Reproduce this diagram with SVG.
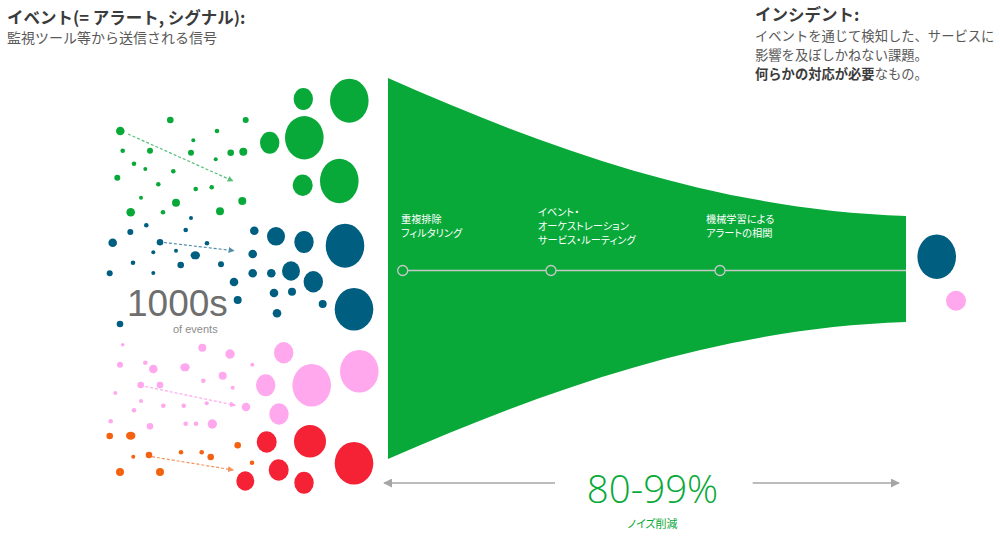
<svg xmlns="http://www.w3.org/2000/svg" width="1000" height="536" viewBox="0 0 1000 536">
<style>
.jp{font-family:"Noto Sans CJK JP","Noto Sans",sans-serif;}
.h{font-size:16.5px;font-weight:bold;fill:#3b3b3b;}
.t{font-size:14px;fill:#595959;}
.t2{font-size:13.3px;fill:#595959;}
.st{font-size:10.2px;fill:#ffffff;font-feature-settings:"palt";}
.g{fill:#08A939;}
.bl{fill:#005E80;}
.pk{fill:#FFA8EE;}
.rd{fill:#F52236;}
.or{fill:#F26210;}
.num{font-family:"Open Sans","Liberation Sans",sans-serif;font-weight:300;}
</style>
<defs>
<marker id="ag" viewBox="0 0 10 10" refX="9" refY="5" markerWidth="5" markerHeight="5" orient="auto"><path d="M0,0 L10,5 L0,10 z" fill="#55C176"/></marker>
<marker id="ab" viewBox="0 0 10 10" refX="9" refY="5" markerWidth="5" markerHeight="5" orient="auto"><path d="M0,0 L10,5 L0,10 z" fill="#4F8EA8"/></marker>
<marker id="ap" viewBox="0 0 10 10" refX="9" refY="5" markerWidth="5" markerHeight="5" orient="auto"><path d="M0,0 L10,5 L0,10 z" fill="#FFA8EE"/></marker>
<marker id="ao" viewBox="0 0 10 10" refX="9" refY="5" markerWidth="5" markerHeight="5" orient="auto"><path d="M0,0 L10,5 L0,10 z" fill="#F5915A"/></marker>
<marker id="agr" viewBox="0 0 10 10" refX="9" refY="5" markerWidth="6" markerHeight="6" orient="auto"><path d="M0,0 L10,5 L0,10 z" fill="#A6A6A6"/></marker>
</defs>

<g id="event-title">
<text class="jp h" x="7" y="24">イベント(= アラート, シグナル):</text>
<text class="jp t" x="7" y="43">監視ツール等から送信される信号</text>
</g>

<g id="incident-title">
<text class="jp h" x="755" y="21">インシデント:</text>
<text class="jp t2" x="755" y="41">イベントを通じて検知した、サービスに</text>
<text class="jp t2" x="755" y="60">影響を及ぼしかねない課題。</text>
<text class="jp t2" x="755" y="79"><tspan font-weight="bold" fill="#3b3b3b">何らかの対応が必要</tspan>なもの。</text>
</g>

<g id="green-events">
<circle class="g" cx="120.3" cy="131" r="4.3"/>
<circle class="g" cx="170.3" cy="120" r="3.3"/>
<circle class="g" cx="245.7" cy="120" r="3"/>
<circle class="g" cx="217" cy="131" r="2.3"/>
<circle class="g" cx="193.3" cy="140.3" r="2"/>
<circle class="g" cx="122.7" cy="150.7" r="2.3"/>
<circle class="g" cx="150" cy="150.7" r="3"/>
<circle class="g" cx="191" cy="152.7" r="3"/>
<circle class="g" cx="230.7" cy="152.7" r="3.3"/>
<circle class="g" cx="243.3" cy="151.7" r="4"/>
<circle class="g" cx="215.7" cy="159.3" r="2"/>
<circle class="g" cx="134" cy="163.7" r="2.3"/>
<circle class="g" cx="145.3" cy="169" r="2"/>
<circle class="g" cx="173.3" cy="171.3" r="2.3"/>
<circle class="g" cx="117.3" cy="177.7" r="3"/>
<circle class="g" cx="158.3" cy="184.3" r="2.3"/>
<circle class="g" cx="195.7" cy="189" r="2.3"/>
<circle class="g" cx="211.7" cy="187.3" r="2.3"/>
<circle class="g" cx="141" cy="197.7" r="2"/>
<circle class="g" cx="176" cy="202.7" r="4"/>
<circle class="g" cx="242.3" cy="201" r="4"/>
<circle class="g" cx="130.7" cy="212.3" r="4.3"/>
<circle class="g" cx="163" cy="212.3" r="2.3"/>
<circle class="g" cx="220" cy="211.3" r="4"/>
<ellipse class="g" cx="303.3" cy="99" rx="9.7" ry="11"/>
<ellipse class="g" cx="349.3" cy="100.7" rx="19.3" ry="22"/>
<ellipse class="g" cx="269.7" cy="142.7" rx="9.7" ry="11"/>
<ellipse class="g" cx="304.3" cy="137.7" rx="19.3" ry="21.7"/>
<ellipse class="g" cx="302.7" cy="185.3" rx="10" ry="10.7"/>
<ellipse class="g" cx="339.3" cy="181" rx="19.3" ry="22.3"/>
</g>

<g id="blue-events">
<circle class="bl" cx="191" cy="218" r="2"/>
<circle class="bl" cx="146.3" cy="225.3" r="2.3"/>
<circle class="bl" cx="185.7" cy="230" r="2.3"/>
<circle class="bl" cx="130.3" cy="232" r="3"/>
<circle class="bl" cx="112.7" cy="242.7" r="4.3"/>
<circle class="bl" cx="160" cy="242.3" r="3.3"/>
<circle class="bl" cx="207" cy="243.3" r="2.3"/>
<circle class="bl" cx="153.3" cy="252.3" r="2"/>
<circle class="bl" cx="176" cy="250.7" r="2"/>
<ellipse class="bl" cx="195.3" cy="255.3" rx="4.7" ry="4"/>
<circle class="bl" cx="133" cy="262.7" r="2.3"/>
<circle class="bl" cx="180.7" cy="265" r="3.3"/>
<circle class="bl" cx="221" cy="264.3" r="3"/>
<circle class="bl" cx="109.7" cy="273.3" r="3"/>
<circle class="bl" cx="153.3" cy="273" r="2"/>
<circle class="bl" cx="120" cy="324" r="3.3"/>
<circle class="bl" cx="254.3" cy="230.7" r="4.3"/>
<ellipse class="bl" cx="276" cy="236.3" rx="9" ry="9.3"/>
<ellipse class="bl" cx="304" cy="242" rx="9.7" ry="11"/>
<ellipse class="bl" cx="345" cy="245.7" rx="19.3" ry="22"/>
<circle class="bl" cx="252.7" cy="254" r="4.3"/>
<circle class="bl" cx="252.7" cy="273.3" r="4.3"/>
<circle class="bl" cx="271.3" cy="273.3" r="4.3"/>
<ellipse class="bl" cx="291" cy="271" rx="9" ry="9.7"/>
<ellipse class="bl" cx="313.3" cy="281.7" rx="9.7" ry="10.7"/>
<circle class="bl" cx="234" cy="282" r="4.3"/>
<circle class="bl" cx="274" cy="293" r="4.3"/>
<circle class="bl" cx="292" cy="291.7" r="4"/>
<circle class="bl" cx="237.7" cy="300" r="4"/>
<circle class="bl" cx="322.7" cy="304" r="4"/>
<circle class="bl" cx="277" cy="313.3" r="4.3"/>
<ellipse class="bl" cx="354" cy="309.3" rx="19.3" ry="21.3"/>
</g>

<g id="pink-events">
<circle class="pk" cx="122.7" cy="344.7" r="1.8"/>
<circle class="pk" cx="202.3" cy="347.7" r="4"/>
<circle class="pk" cx="230" cy="354" r="4.7"/>
<ellipse class="pk" cx="283.7" cy="352.7" rx="9.7" ry="10.7"/>
<circle class="pk" cx="120" cy="364.7" r="3"/>
<circle class="pk" cx="145.3" cy="362.7" r="2.3"/>
<circle class="pk" cx="153.3" cy="369" r="4.3"/>
<ellipse class="pk" cx="185" cy="367.3" rx="4.7" ry="4"/>
<circle class="pk" cx="252.3" cy="364.7" r="2"/>
<circle class="pk" cx="222.7" cy="375.7" r="4"/>
<circle class="pk" cx="203.3" cy="380.7" r="2.3"/>
<circle class="pk" cx="140.7" cy="385" r="3.3"/>
<circle class="pk" cx="160" cy="385" r="3.3"/>
<circle class="pk" cx="232.7" cy="387.7" r="2"/>
<ellipse class="pk" cx="265.7" cy="385.3" rx="9.7" ry="11"/>
<ellipse class="pk" cx="311.7" cy="385.3" rx="19.3" ry="21.3"/>
<ellipse class="pk" cx="359.3" cy="371.3" rx="19.3" ry="21.3"/>
<circle class="pk" cx="115.3" cy="393" r="2"/>
<circle class="pk" cx="141" cy="401" r="2"/>
<circle class="pk" cx="163.3" cy="405.7" r="2.3"/>
<circle class="pk" cx="183.7" cy="405.7" r="2.3"/>
<circle class="pk" cx="206.7" cy="403.3" r="2"/>
<circle class="pk" cx="134" cy="410.3" r="2.3"/>
<circle class="pk" cx="246" cy="407" r="4.3"/>
<ellipse class="pk" cx="279" cy="414" rx="9.7" ry="10.7"/>
<circle class="pk" cx="110.7" cy="421.3" r="2.3"/>
<circle class="pk" cx="150" cy="426.3" r="3.3"/>
<circle class="pk" cx="185.7" cy="423.7" r="2.3"/>
<circle class="pk" cx="196" cy="423.7" r="2.3"/>
<circle class="pk" cx="212.3" cy="424" r="4.7"/>
</g>

<g id="orange-events">
<circle class="or" cx="109.7" cy="436" r="3.3"/>
<ellipse class="or" cx="130.7" cy="435.7" rx="4.7" ry="4"/>
<circle class="or" cx="237.7" cy="445.3" r="3.3"/>
<circle class="or" cx="133.3" cy="456.7" r="2"/>
<circle class="or" cx="149" cy="455" r="3.3"/>
<circle class="or" cx="181" cy="452.3" r="2.3"/>
<circle class="or" cx="201.7" cy="452.3" r="2.3"/>
<circle class="or" cx="210.7" cy="457" r="3.3"/>
<circle class="or" cx="252" cy="462.7" r="2.3"/>
<circle class="or" cx="120" cy="472" r="4"/>
<circle class="or" cx="160" cy="472" r="4"/>
</g>

<g id="red-events">
<ellipse class="rd" cx="266.7" cy="442" rx="10" ry="10.7"/>
<ellipse class="rd" cx="310" cy="441.3" rx="16" ry="16.3"/>
<ellipse class="rd" cx="354" cy="463.3" rx="19.3" ry="21.3"/>
<ellipse class="rd" cx="278.7" cy="470" rx="10" ry="10.7"/>
<ellipse class="rd" cx="245.3" cy="481" rx="9" ry="9.7"/>
<ellipse class="rd" cx="304" cy="482.7" rx="9.7" ry="11"/>
</g>

<g id="events-count">
<text x="127" y="316" font-family="Liberation Sans, Arial, sans-serif" font-size="37" fill="#6E6E6E">1000s</text>
<text x="173" y="333" font-family="Liberation Sans, Arial, sans-serif" font-size="11" fill="#8C8C8C">of events</text>
</g>

<g id="funnel">
<path class="g" d="M388,78 C550,150 720,210 906,216 L906,322 C720,328 550,388 388,459 Z"/>
</g>

<g id="stages">
<text class="jp st" x="401" y="223">重複排除</text>
<text class="jp st" x="401" y="237">フィルタリング</text>
<text class="jp st" x="538" y="216">イベント・</text>
<text class="jp st" x="538" y="230">オーケストレーション</text>
<text class="jp st" x="538" y="244">サービス・ルーティング</text>
<text class="jp st" x="706" y="223">機械学習による</text>
<text class="jp st" x="706" y="237">アラートの相関</text>
</g>

<g id="incidents">
<ellipse class="bl" cx="936.7" cy="256.7" rx="19.3" ry="22.3"/>
<circle class="pk" cx="956" cy="300.7" r="10"/>
</g>

<g id="connectors" fill="none">
<line x1="128" y1="134" x2="233" y2="181" stroke="#55C176" stroke-width="1.2" stroke-dasharray="3,2" marker-end="url(#ag)"/>
<line x1="164" y1="242.5" x2="234" y2="250.7" stroke="#4F8EA8" stroke-width="1.2" stroke-dasharray="3,2" marker-end="url(#ab)"/>
<line x1="145.3" y1="386.5" x2="235.3" y2="405.3" stroke="#FFA8EE" stroke-width="1.2" stroke-dasharray="3,2" marker-end="url(#ap)"/>
<line x1="152" y1="456.7" x2="233.3" y2="470" stroke="#F5915A" stroke-width="1.2" stroke-dasharray="3,2" marker-end="url(#ao)"/>
<line x1="397.7" y1="270.5" x2="906" y2="270.5" stroke="#C8C8C8" stroke-width="1.5"/>
<circle cx="402.7" cy="270.5" r="5" fill="#08A939" stroke="#C8C8C8" stroke-width="1.3"/>
<circle cx="551" cy="270.5" r="5" fill="#08A939" stroke="#C8C8C8" stroke-width="1.3"/>
<circle cx="720" cy="270.5" r="5" fill="#08A939" stroke="#C8C8C8" stroke-width="1.3"/>
<line x1="555" y1="483" x2="384" y2="483" stroke="#A6A6A6" stroke-width="1.5" marker-end="url(#agr)"/>
<line x1="752.7" y1="483" x2="899" y2="483" stroke="#A6A6A6" stroke-width="1.5" marker-end="url(#agr)"/>
</g>

<g id="reduction">
<text class="num" x="652.5" y="503" text-anchor="middle" font-size="38.5" fill="#08A939">80-99%</text>
<text class="jp" x="652.5" y="528" text-anchor="middle" font-size="11" fill="#08A939" style="font-feature-settings:'palt'">ノイズ削減</text>
</g>
</svg>
